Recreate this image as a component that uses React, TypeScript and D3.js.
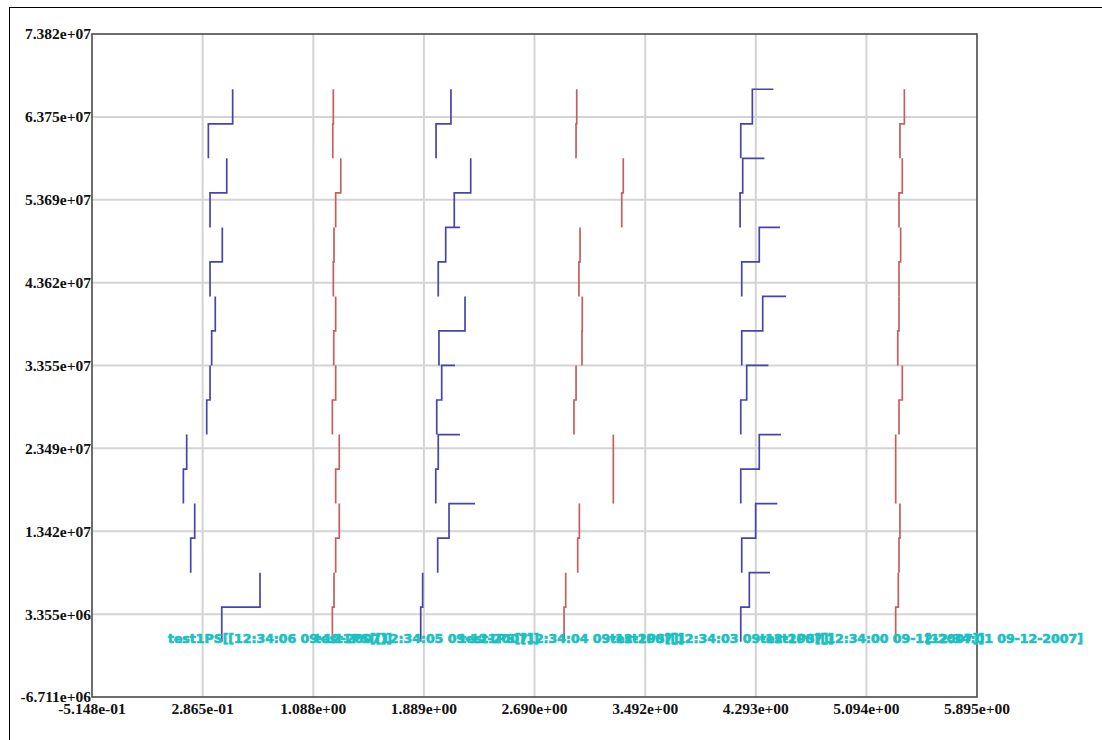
import React from 'react';
import * as d3 from 'd3';

// axis ticks
const xTickValues = [-0.5148, 0.2865, 1.088, 1.889, 2.69, 3.492, 4.293, 5.094, 5.895];
const xTickLabels = ['-5.148e-01', '2.865e-01', '1.088e+00', '1.889e+00', '2.690e+00', '3.492e+00', '4.293e+00', '5.094e+00', '5.895e+00'];
const yTickValues = [-6.711e6, 3.355e6, 1.342e7, 2.349e7, 3.355e7, 4.362e7, 5.369e7, 6.375e7, 7.382e7];
const yTickLabels = ['-6.711e+06', '3.355e+06', '1.342e+07', '2.349e+07', '3.355e+07', '4.362e+07', '5.369e+07', '6.375e+07', '7.382e+07'];

// row boundaries on the y axis (top of each row, then its bottom)
const rowTops = [6.711e7, 5.872e7, 5.033e7, 4.194e7, 3.356e7, 2.517e7, 1.678e7, 8.389e6];
const rowBottoms = [5.872e7, 5.033e7, 4.194e7, 3.356e7, 2.517e7, 1.678e7, 8.389e6, 0];

// x value at top, middle, bottom of every row
const blueA = [
  [0.504, 0.504, 0.328], [0.461, 0.461, 0.34], [0.429, 0.429, 0.34], [0.378, 0.378, 0.352],
  [0.34, 0.34, 0.316], [0.171, 0.171, 0.147], [0.229, 0.229, 0.2], [0.702, 0.702, 0.425],
];
const redB = [
  [1.233, 1.233, 1.229], [1.287, 1.287, 1.25], [1.238, 1.238, 1.233], [1.25, 1.25, 1.236],
  [1.25, 1.25, 1.226], [1.276, 1.276, 1.25], [1.276, 1.276, 1.25], [1.238, 1.238, 1.226],
];
const blueC = [
  [2.085, 2.085, 1.977], [2.228, 2.228, 2.109], [2.151, 2.047, 1.993], [2.187, 2.187, 1.998],
  [2.114, 2.018, 1.982], [2.151, 1.993, 1.975], [2.259, 2.071, 1.989], [1.88, 1.88, 1.866],
];
const redC = [
  [2.996, 2.996, 2.991], [3.333, 3.333, 3.322], [3.02, 3.02, 3.012], [3.036, 3.036, 3.034],
  [2.991, 2.991, 2.976], [3.261, 3.261, 3.261], [3.015, 3.015, 3.003], [2.916, 2.916, 2.904],
];
const blueD = [
  [4.42, 4.268, 4.184], [4.355, 4.198, 4.179], [4.468, 4.318, 4.191], [4.512, 4.343, 4.191],
  [4.384, 4.227, 4.184], [4.475, 4.318, 4.184], [4.449, 4.292, 4.191], [4.396, 4.246, 4.184],
];
const redD = [
  [5.369, 5.369, 5.337], [5.354, 5.354, 5.33], [5.342, 5.342, 5.33], [5.33, 5.33, 5.321],
  [5.354, 5.354, 5.33], [5.306, 5.306, 5.306], [5.337, 5.337, 5.33], [5.325, 5.325, 5.306],
];

// overlapping annotation labels along the bottom
const labelTexts = [
  'test1PS[[12:34:06  09-12-2007]]',
  'test1PS[[12:34:05  09-12-2007]]',
  'test1PS[[12:34:04  09-12-2007]]',
  'test1PS[[12:34:03  09-12-2007]]',
  'test1PS[[12:34:00  09-12-2007]]',
  '[12:34:01  09-12-2007]',
];
const labelStarts = [0.035, 1.1, 2.151, 3.237, 4.324, 5.518];

const BLUE = '#4545ad';
const RED = '#c65e5e';

const series = [
  { rows: blueA, color: BLUE },
  { rows: redB, color: RED },
  { rows: blueC, color: BLUE },
  { rows: redC, color: RED },
  { rows: blueD, color: BLUE },
  { rows: redD, color: RED },
];

const App = () => {
  const width = 1102;
  const height = 740;
  const left = 92, right = 977, top = 34, bottom = 697;

  const x = d3.scaleLinear().domain([-0.5148, 5.895]).range([left, right]);
  const y = d3.scaleLinear().domain([-6.711e6, 7.382e7]).range([bottom, top]);

  const line = d3
    .line<[number, number]>()
    .x(d => x(d[0]))
    .y(d => y(d[1]))
    .curve(d3.curveStepAfter);

  const tickFont = { fontFamily: 'Liberation Serif', fontWeight: 'bold', fontSize: 15.5 } as const;

  return (
    <svg width={width} height={height} style={{ position: 'absolute', left: 0, top: 0, background: '#fff' }}>
      <rect x={0} y={0} width={width} height={height} fill="#fff" />
      {/* outer frame */}
      <rect x={9.5} y={7.5} width={1200} height={900} fill="none" stroke="#000" strokeWidth={1} />

      {/* grid */}
      {xTickValues.slice(1, -1).map((t, i) => (
        <line key={'gx' + i} x1={x(t)} x2={x(t)} y1={top} y2={bottom} stroke="#d4d4d4" strokeWidth={2} />
      ))}
      {yTickValues.slice(1, -1).map((t, i) => (
        <line key={'gy' + i} x1={left} x2={right} y1={y(t)} y2={y(t)} stroke="#d4d4d4" strokeWidth={2} />
      ))}

      {/* traces */}
      {series.map((s, si) =>
        s.rows.map((r, ri) => {
          const mid = (rowTops[ri] + rowBottoms[ri]) / 2;
          const pts: [number, number][] = [
            [r[0], rowTops[ri]],
            [r[1], mid],
            [r[2], rowBottoms[ri]],
          ];
          return (
            <path key={si + '-' + ri} d={line(pts) || ''} fill="none" stroke={s.color} strokeWidth={1.7} />
          );
        })
      )}

      {/* plot border */}
      <rect x={left} y={top} width={right - left} height={bottom - top} fill="none" stroke="#4a4a4a" strokeWidth={1.6} />

      {/* y tick labels */}
      {yTickValues.map((t, i) => (
        <text key={'yl' + i} x={left - 1} y={y(t)} dy="0.35em" textAnchor="end" {...tickFont} fill="#111">
          {yTickLabels[i]}
        </text>
      ))}
      {/* x tick labels */}
      {xTickValues.map((t, i) => (
        <text key={'xl' + i} x={x(t)} y={bottom + 17} textAnchor="middle" {...tickFont} fill="#111">
          {xTickLabels[i]}
        </text>
      ))}

      {/* annotations */}
      {labelTexts.map((s, i) => (
        <text
          key={'lb' + i}
          x={x(labelStarts[i])}
          y={y(0) + 1}
          fontFamily="DejaVu Sans"
          fontWeight="bold"
          fontSize={12.5}
          fill="#1cc0c0"
          stroke="#1cc0c0"
          strokeWidth={0.7}
        >
          {s}
        </text>
      ))}
    </svg>
  );
};

export default App;
